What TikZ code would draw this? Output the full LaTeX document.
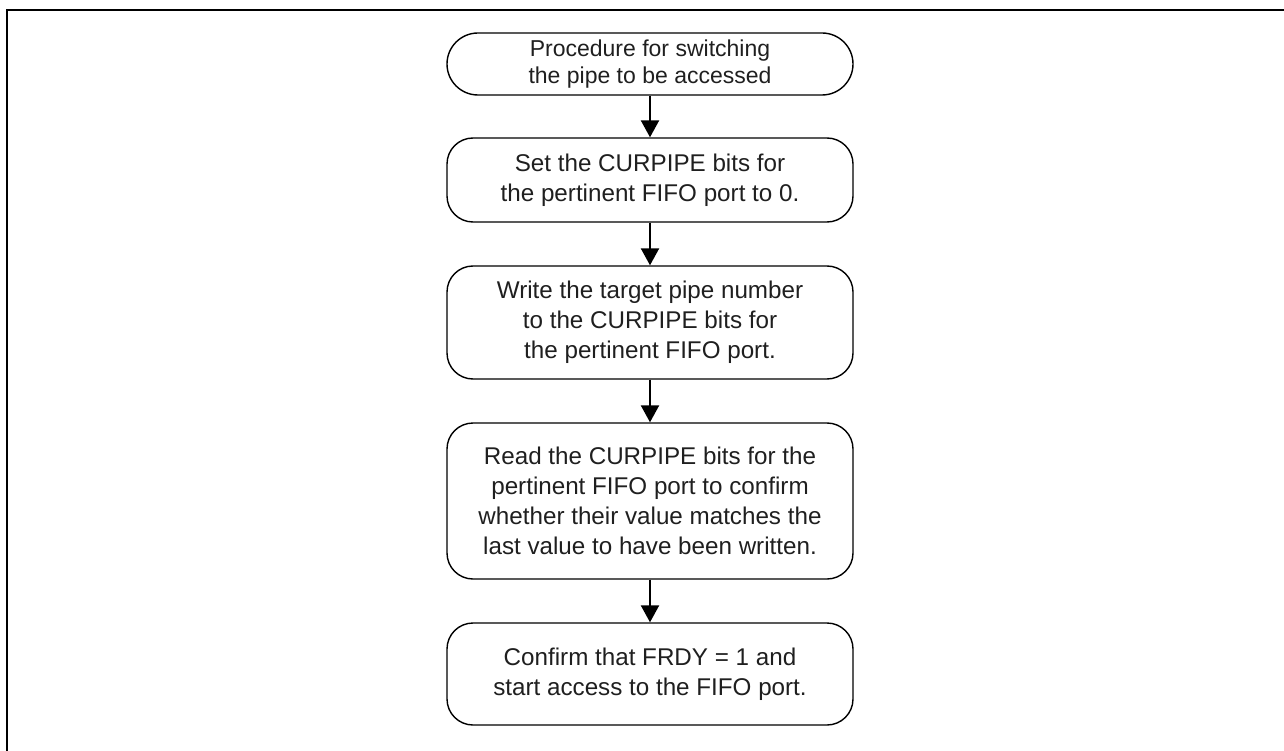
\documentclass[tikz,border=0pt]{standalone}
\usepackage{fontspec}
\setmainfont{Liberation Sans}
\usetikzlibrary{arrows.meta}
\begin{document}
\begin{tikzpicture}[x=1pt,y=-1pt,
  procbox/.style={draw, line width=1.4pt, rounded corners=26pt, minimum width=406pt, align=center, inner sep=0pt,
    font=\fontsize{24.2}{30}\selectfont, text=black!88},
  termbox/.style={procbox, rounded corners=31pt, font=\fontsize{23}{26.5}\selectfont},
  flow/.style={line width=2.3pt, -{Triangle[length=17pt,width=18pt]}},
  frameline/.style={line width=2.6pt}]
\useasboundingbox (0,0) rectangle (1284,751);
\draw[frameline] (7,751) -- (7,10) -- (1284,10);
\node[termbox, minimum height=62pt] (b1) at (650,64) {Procedure for switching\\the pipe to be accessed};
\node[procbox, minimum height=84pt] (b2) at (650,180) {Set the CURPIPE bits for\\the pertinent FIFO port to 0.};
\node[procbox, minimum height=113pt] (b3) at (650,322.5) {Write the target pipe number\\to the CURPIPE bits for\\the pertinent FIFO port.};
\node[procbox, minimum height=156pt] (b4) at (650,501) {Read the CURPIPE bits for the\\pertinent FIFO port to confirm\\whether their value matches the\\last value to have been written.};
\node[procbox, minimum height=102pt] (b5) at (650,674) {Confirm that FRDY = 1 and\\start access to the FIFO port.};
\draw[flow] (b1) -- (b2);
\draw[flow] (b2) -- (b3);
\draw[flow] (b3) -- (b4);
\draw[flow] (b4) -- (b5);
\end{tikzpicture}
\end{document}
